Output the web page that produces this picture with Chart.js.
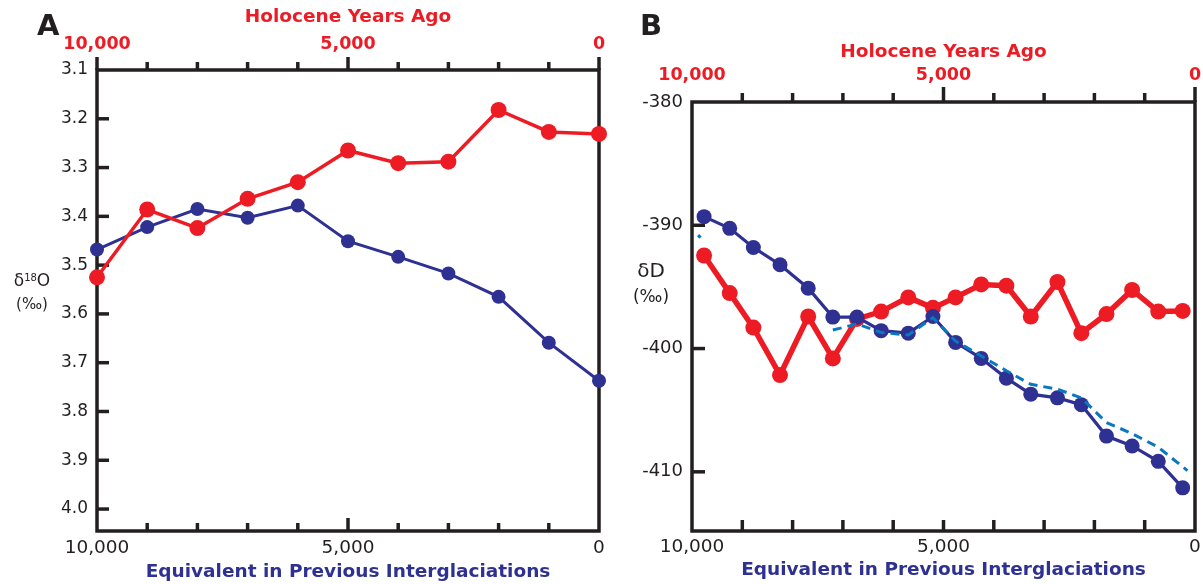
<!DOCTYPE html>
<html>
<head>
<meta charset="utf-8">
<script src="https://cdn.jsdelivr.net/npm/chart.js@4"></script>
<style>
  body { margin: 0; background: #fff; }
  .panel { position: absolute; top: 0; }
  #wrapA { left: 0; }
  #wrapB { left: 620px; }
</style>
</head>
<body>
<div class="panel" id="wrapA"><canvas id="chartA" width="620" height="584"></canvas></div>
<div class="panel" id="wrapB"><canvas id="chartB" width="583" height="584"></canvas></div>
<script>
// Panel A data //
const yearsA = [10000, 9000, 8000, 7000, 6000, 5000, 4000, 3000, 2000, 1000, 0];
const holoceneA = [3.525, 3.386, 3.424, 3.364, 3.330, 3.265, 3.291, 3.288, 3.182, 3.227, 3.231];
const interglacialA = [3.468, 3.422, 3.385, 3.403, 3.378, 3.451, 3.483, 3.517, 3.565, 3.659, 3.737];
const yTicksA = [3.1, 3.2, 3.3, 3.4, 3.5, 3.6, 3.7, 3.8, 3.9, 4.0];
const yTickLabelsA = ['3.1', '3.2', '3.3', '3.4', '3.5', '3.6', '3.7', '3.8', '3.9', '4.0'];

// Panel B data //
const yearsB = [9760, 9250, 8780, 8250, 7690, 7200, 6720, 6240, 5700, 5210,
                4760, 4250, 3750, 3265, 2735, 2260, 1760, 1250, 730, 245];
const holoceneB = [-392.45, -395.5, -398.3, -402.15, -397.4, -400.8, -397.6, -397.0, -395.85, -396.7,
                   -395.85, -394.8, -394.9, -397.4, -394.6, -398.75, -397.2, -395.25, -397.0, -396.95];
const interglacialB = [-389.3, -390.25, -391.8, -393.2, -395.1, -397.45, -397.45, -398.55, -398.75, -397.4,
                       -399.5, -400.8, -402.4, -403.7, -404.0, -404.55, -407.1, -407.9, -409.15, -411.3];
const smoothYearsB = [9880, 9830, 9500, 7200, 6720, 6240, 5700, 5210, 4760, 4250,
                      3750, 3265, 2735, 2260, 1760, 1250, 730, 150];
const smoothB = [-390.8, -391.0, null, -398.5, -398.0, -398.7, -398.9, -397.5, -399.4, -400.6,
                 -401.8, -402.9, -403.3, -404.0, -406.0, -406.9, -408.0, -409.9];
const yTicksB = [-380, -390, -400, -410];
const yTickLabelsB = ['-380', '-390', '-400', '-410'];

// shared year axes
const xLabelTicks = [10000, 5000, 0];
const xTickLabels = ['10,000', '5,000', '0'];
const xMinorTicks = [10000, 9000, 8000, 7000, 6000, 5000, 4000, 3000, 2000, 1000, 0];

const RED = '#ed1c24';
const NAVY = '#2e3192';
const CYAN = '#0a78c0';
const INK = '#231f20';
const FONT = "'DejaVu Sans', sans-serif";

Chart.defaults.font.family = FONT;
Chart.defaults.color = INK;

function pairs(xs, ys) {
  return xs.map((x, i) => ({ x: x, y: ys[i] }));
}

// frame, inward/outward tick marks, panel letter and y title
const framePlugin = {
  id: 'frame',
  beforeDatasetsDraw(chart, args, opts) {
    const { ctx, chartArea: a, scales } = chart;
    ctx.save();
    ctx.strokeStyle = INK;
    ctx.lineWidth = 3.5;
    ctx.strokeRect(a.left, a.top, a.right - a.left, a.bottom - a.top);
    const seg = (x1, y1, x2, y2) => {
      ctx.beginPath(); ctx.moveTo(x1, y1); ctx.lineTo(x2, y2); ctx.stroke();
    };
    xMinorTicks.forEach(v => {
      const px = scales.x.getPixelForValue(v);
      const tl = opts.topLen(v);
      if (tl > 0) seg(px, a.top, px, a.top - tl);
      const bl = opts.bottomLen(v);
      if (bl > 0) seg(px, a.bottom, px, a.bottom - bl);
    });
    opts.yTicks.forEach(v => {
      const py = scales.y.getPixelForValue(v);
      if (Math.abs(py - a.top) > 2) seg(a.left, py, a.left + opts.yLen, py);
    });
    ctx.restore();
  },
  afterDraw(chart, args, opts) {
    const ctx = chart.ctx;
    ctx.save();
    ctx.fillStyle = INK;
    ctx.textAlign = 'left';
    ctx.textBaseline = 'middle';
    ctx.font = 'bold 29px ' + FONT;
    ctx.fillText(opts.letter, opts.letterX, opts.letterY);

    // y title: pieces [text, size, raise]
    let w = 0;
    opts.yTitle.forEach(p => { ctx.font = p[1] + 'px ' + FONT; w += ctx.measureText(p[0]).width; });
    let x = opts.yTitleX - w / 2;
    opts.yTitle.forEach(p => {
      ctx.font = p[1] + 'px ' + FONT;
      ctx.fillText(p[0], x, opts.yTitleY - p[2]);
      x += ctx.measureText(p[0]).width;
    });
    ctx.textAlign = 'center';
    ctx.font = opts.unitSize + 'px ' + FONT;
    ctx.fillText('(‰)', opts.yTitleX, opts.yTitleY + opts.unitGap);
    ctx.restore();
  }
};

function xScale(position, opts) {
  const top = position === 'top';
  return {
    type: 'linear',
    position: position,
    reverse: true,
    min: 0,
    max: 10000,
    grid: { display: false, drawTicks: false },
    border: { display: false },
    afterBuildTicks: s => { s.ticks = xLabelTicks.map(v => ({ value: v })); },
    afterFit: s => { s.height = opts.height; s.paddingLeft = 0; s.paddingRight = 0; },
    ticks: {
      autoSkip: false,
      maxRotation: 0,
      padding: opts.tickPad,
      color: top ? RED : INK,
      font: { size: top ? 17.5 : 18.5, weight: top ? 'bold' : 'normal' },
      callback: v => xTickLabels[xLabelTicks.indexOf(v)]
    },
    title: {
      display: true,
      text: top ? 'Holocene Years Ago' : 'Equivalent in Previous Interglaciations',
      color: top ? RED : NAVY,
      font: { size: 18.5, weight: 'bold' },
      padding: top ? { top: opts.titlePad, bottom: 0 } : { top: 0, bottom: opts.titlePad }
    }
  };
}

function yScale(opts) {
  return {
    type: 'linear',
    position: 'left',
    reverse: opts.reverse,
    min: opts.min,
    max: opts.max,
    grid: { display: false, drawTicks: false },
    border: { display: false },
    afterBuildTicks: s => { s.ticks = opts.ticks.map(v => ({ value: v })); },
    afterFit: s => { s.width = opts.width; s.paddingTop = 0; s.paddingBottom = 0; },
    ticks: {
      padding: 9,
      color: INK,
      font: { size: opts.fontSize },
      callback: v => opts.labels[opts.ticks.findIndex(t => Math.abs(t - v) < 1e-6)]
    }
  };
}

function baseOptions(extra) {
  return {
    responsive: false,
    animation: false,
    events: [],
    layout: { padding: extra.padding },
    plugins: { legend: { display: false }, tooltip: { enabled: false }, frame: extra.frame },
    scales: extra.scales
  };
}

// Panel A //
new Chart(document.getElementById('chartA'), {
  type: 'scatter',
  data: {
    datasets: [
      {
        label: 'Holocene',
        data: pairs(yearsA, holoceneA),
        showLine: true,
        order: 0,
        borderColor: RED,
        borderWidth: 3.5,
        pointRadius: 8,
        pointBorderWidth: 0,
        pointBackgroundColor: RED,
        clip: false
      },
      {
        label: 'Previous interglaciations',
        data: pairs(yearsA, interglacialA),
        showLine: true,
        order: 1,
        borderColor: NAVY,
        borderWidth: 3,
        pointRadius: 7,
        pointBorderWidth: 0,
        pointBackgroundColor: NAVY,
        clip: false
      }
    ]
  },
  options: baseOptions({
    padding: { left: 0, right: 21, top: 0, bottom: 0 },
    frame: {
      topLen: v => (v % 5000 === 0 ? 13 : 8),
      bottomLen: v => (v === 5000 ? 13 : (v === 0 || v === 10000 ? 0 : 8)),
      yTicks: yTicksA,
      yLen: 12,
      letter: 'A',
      letterX: 37,
      letterY: 27,
      yTitle: [['δ', 17, 0], ['18', 10, 4], ['O', 17, 0]],
      yTitleX: 32,
      yTitleY: 282,
      unitGap: 23,
      unitSize: 15
    },
    scales: {
      x: xScale('bottom', { height: 53, tickPad: 6.5, titlePad: 1 }),
      x2: xScale('top', { height: 70, tickPad: 15.5, titlePad: 6 }),
      y: yScale({ reverse: true, min: 3.1, max: 4.045, ticks: yTicksA, labels: yTickLabelsA, width: 97, fontSize: 17 })
    }
  }),
  plugins: [framePlugin]
});

// Panel B //
new Chart(document.getElementById('chartB'), {
  type: 'scatter',
  data: {
    datasets: [
      {
        label: 'Smoothed',
        data: pairs(smoothYearsB, smoothB),
        showLine: true,
        spanGaps: false,
        order: 0,
        borderColor: CYAN,
        borderWidth: 3,
        borderDash: [9, 6],
        pointRadius: 0,
        clip: false
      },
      {
        label: 'Previous interglaciations',
        data: pairs(yearsB, interglacialB),
        showLine: true,
        order: 1,
        borderColor: NAVY,
        borderWidth: 3.2,
        pointRadius: 7.5,
        pointBorderWidth: 0,
        pointBackgroundColor: NAVY,
        clip: false
      },
      {
        label: 'Holocene',
        data: pairs(yearsB, holoceneB),
        showLine: true,
        order: 2,
        borderColor: RED,
        borderWidth: 5.5,
        pointRadius: 8,
        pointBorderWidth: 0,
        pointBackgroundColor: RED,
        clip: false
      }
    ]
  },
  options: baseOptions({
    padding: { left: 0, right: 6, top: 0, bottom: 0 },
    frame: {
      topLen: v => (v === 10000 ? 0 : (v % 5000 === 0 ? 15 : 9)),
      bottomLen: v => (v === 0 || v === 10000 ? 0 : 11),
      yTicks: yTicksB,
      yLen: 13,
      letter: 'B',
      letterX: 20,
      letterY: 27,
      yTitle: [['δD', 20, 0]],
      yTitleX: 31,
      yTitleY: 272,
      unitGap: 26,
      unitSize: 17
    },
    scales: {
      x: xScale('bottom', { height: 53, tickPad: 5, titlePad: 3 }),
      x2: xScale('top', { height: 102, tickPad: 16.5, titlePad: 41 }),
      y: yScale({ reverse: false, min: -414.8, max: -380, ticks: yTicksB, labels: yTickLabelsB, width: 72, fontSize: 18 })
    }
  }),
  plugins: [framePlugin]
});
</script>
</body>
</html>
